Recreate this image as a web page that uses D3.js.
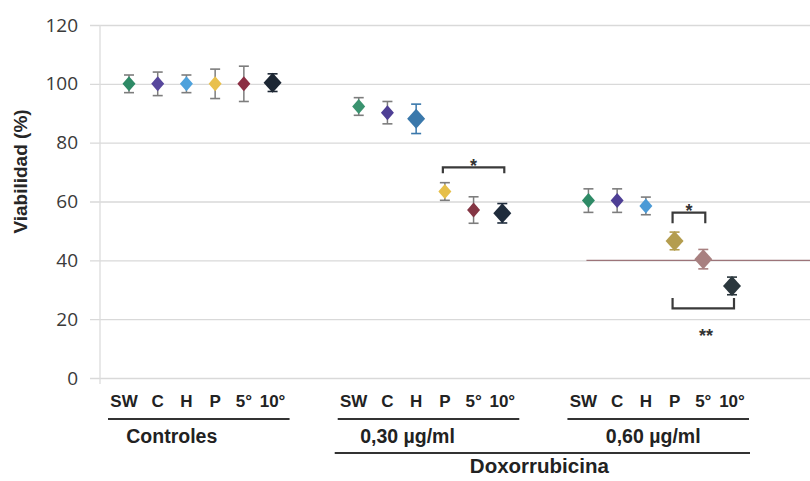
<!DOCTYPE html>
<html>
<head>
<meta charset="utf-8">
<script src="https://cdn.jsdelivr.net/npm/d3@7"></script>
<style>
  body { margin: 0; background: #fff; }
  svg { display: block; }
</style>
</head>
<body>
<div class="chart"></div>
<script>
// ===== data =====
const groupNames = ["Controles", "0,30 µg/ml", "0,60 µg/ml"];
const cellLabels = ["SW", "C", "H", "P", "5°", "10°"];
const yTicks = [0, 20, 40, 60, 80, 100, 120];

const controles = [100, 100, 100, 100, 100, 100.4];
const controlesErr = [3, 4, 3, 5, 6, 3];
const dox030 = [92.3, 90.2, 88.1, 63.4, 57.1, 56];
const dox030Err = [3, 3.8, 5, 3, 4.5, 3.3];
const dox060 = [60.3, 60.3, 58.5, 46.6, 40.4, 31.3];
const dox060Err = [4, 4, 3, 3, 3.3, 3];

// marker colours per group (SW, C, H, P, 5°, 10°)
const colControles = ["#2e8a66", "#57479c", "#4ea2dc", "#e9c04c", "#8c2f44", "#1c2633"];
const colDox030 = ["#3a936f", "#4e3f95", "#3a78ab", "#e6bf4a", "#843644", "#1f2c3c"];
const colDox060 = ["#2e8a66", "#4e3f95", "#4b9ad6", "#b49d4e", "#a88080", "#2b373d"];
const bigMarker = [
  [0, 0, 0, 0, 0, 1],
  [0, 0, 1, 0, 0, 1],
  [0, 0, 0, 1, 1, 1]
];

// significance brackets: group, from cell, to cell, level, leg, label
const brackets = [
  { g: 1, from: 3, to: 5, level: 71.6, leg: 69.6, label: "*", labelY: 73.3 },
  { g: 2, from: 3, to: 4, level: 56.2, leg: 52.6, label: "*", labelY: 58.1 },
  { g: 2, from: 3, to: 5, level: 23.7, leg: 27.2, label: "**", labelY: 15.5 }
];

const values = [controles, dox030, dox060];
const errs = [controlesErr, dox030Err, dox060Err];
const colors = [colControles, colDox030, colDox060];

// slot keys with two blank slots between groups
let slots = [];
groupNames.forEach(function (g, gi) {
  cellLabels.forEach(function (c) { slots.push(gi + "-" + c); });
  if (gi < groupNames.length - 1) { slots.push("gap" + gi + "a"); slots.push("gap" + gi + "b"); }
});

let points = [];
groupNames.forEach(function (g, gi) {
  cellLabels.forEach(function (c, ci) {
    points.push({
      key: gi + "-" + c, g: gi, c: ci, label: c,
      value: values[gi][ci], err: errs[gi][ci],
      color: colors[gi][ci], big: bigMarker[gi][ci]
    });
  });
});

// ===== layout =====
let width = 810, height = 481;
let svg = d3.select(".chart").append("svg")
  .attr("width", width)
  .attr("height", height);

let x = d3.scalePoint().domain(slots).range([129, 732]);
let y = d3.scaleLinear().domain([0, 120]).range([378, 25]);

// gridlines + y axis
let yAxis = d3.axisLeft(y).tickValues(yTicks).tickSize(-(width - 90)).tickPadding(12);
let ga = svg.append("g")
  .attr("transform", "translate(90,0)")
  .call(yAxis);
ga.select(".domain").remove();
ga.selectAll(".tick line").attr("stroke", "#d9d9d9").attr("stroke-width", 1.3);
ga.selectAll(".tick text")
  .attr("fill", "#3a3a3a")
  .style("font-family", "'Open Sans', sans-serif")
  .style("font-size", "19px");

svg.append("line")
  .attr("x1", 100).attr("x2", 100)
  .attr("y1", y(120)).attr("y2", y(0) + 6)
  .attr("stroke", "#dcdcdc").attr("stroke-width", 1.3);

// mauve line at 40 over the last group
svg.append("line")
  .attr("x1", x("2-SW") - 2).attr("x2", width)
  .attr("y1", y(40)).attr("y2", y(40))
  .attr("stroke", "#9c7479").attr("stroke-width", 1.2);

// y title
svg.append("text")
  .attr("transform", "translate(27," + (y(60) - 30) + ") rotate(-90)")
  .attr("text-anchor", "middle")
  .style("font-family", "'Liberation Sans', Arial, sans-serif")
  .style("font-weight", "bold")
  .style("font-size", "19px")
  .attr("fill", "#262626")
  .text("Viabilidad (%)");

// ===== error bars + markers =====
let pg = svg.append("g").selectAll("g").data(points).enter().append("g")
  .attr("transform", function (d) { return "translate(" + x(d.key) + ",0)"; });

pg.append("line")
  .attr("y1", function (d) { return y(d.value + d.err); })
  .attr("y2", function (d) { return y(d.value - d.err); })
  .attr("stroke", function (d) { return d.big ? d.color : "#7d7d7d"; })
  .attr("stroke-width", 1.5);
pg.selectAll(".cap").data(function (d) { return [d.value + d.err, d.value - d.err].map(function (v) { return { v: v, d: d }; }); })
  .enter().append("line")
  .attr("x1", -5).attr("x2", 5)
  .attr("y1", function (e) { return y(e.v); })
  .attr("y2", function (e) { return y(e.v); })
  .attr("stroke", function (e) { return e.d.big ? e.d.color : "#7d7d7d"; })
  .attr("stroke-width", 1.6);

pg.append("path")
  .attr("d", function (d) {
    let w = d.big ? 9 : 6.5, h = d.big ? 10 : 7.5, cy = y(d.value);
    return "M0," + (cy - h) + "L" + w + "," + cy + "L0," + (cy + h) + "L" + (-w) + "," + cy + "Z";
  })
  .attr("fill", function (d) { return d.color; });

// ===== brackets =====
let bg = svg.append("g").selectAll("g").data(brackets).enter().append("g");
bg.append("path")
  .attr("d", function (b) {
    let x1 = x(b.g + "-" + cellLabels[b.from]) - 2, x2 = x(b.g + "-" + cellLabels[b.to]) + 2;
    return "M" + x1 + "," + y(b.leg) + "L" + x1 + "," + y(b.level) + "L" + x2 + "," + y(b.level) + "L" + x2 + "," + y(b.leg);
  })
  .attr("fill", "none")
  .attr("stroke", "#3a3a3a")
  .attr("stroke-width", 2.2);
bg.append("text")
  .attr("x", function (b) {
    let x1 = x(b.g + "-" + cellLabels[b.from]), x2 = x(b.g + "-" + cellLabels[b.to]);
    return b.label === "**" ? x2 - 26 : (x1 + x2) / 2;
  })
  .attr("y", function (b) { return y(b.labelY) + 10; })
  .attr("text-anchor", "middle")
  .style("font-family", "'Liberation Sans', Arial, sans-serif")
  .style("font-weight", "bold")
  .style("font-size", "18px")
  .attr("fill", "#333")
  .text(function (b) { return b.label; });

// ===== category labels =====
let labelFont = "'Liberation Sans', Arial, sans-serif";
svg.append("g").selectAll("text").data(points).enter().append("text")
  .attr("x", function (d) { return x(d.key) + (d.c === 0 ? -5 : 0); })
  .attr("y", 407)
  .attr("text-anchor", "middle")
  .style("font-family", labelFont)
  .style("font-weight", "bold")
  .style("font-size", "17px")
  .attr("fill", "#222")
  .text(function (d) { return d.label; });

// group underlines and names
let nameShift = [-29, -23, -7];
let gg = svg.append("g").selectAll("g").data(groupNames).enter().append("g");
gg.append("line")
  .attr("x1", function (g, i) { return x(i + "-SW") - 21; })
  .attr("x2", function (g, i) { return x(i + "-10°") + 17; })
  .attr("y1", 419).attr("y2", 419)
  .attr("stroke", "#333").attr("stroke-width", 2);
gg.append("text")
  .attr("x", function (g, i) { return (x(i + "-SW") + x(i + "-10°")) / 2 + nameShift[i]; })
  .attr("y", 443)
  .attr("text-anchor", "middle")
  .style("font-family", labelFont)
  .style("font-weight", "bold")
  .style("font-size", "19.5px")
  .attr("fill", "#222")
  .text(function (g) { return g; });

// Doxorrubicina line and label
svg.append("line")
  .attr("x1", x("1-SW") - 24).attr("x2", x("2-10°") + 18)
  .attr("y1", 453).attr("y2", 453)
  .attr("stroke", "#333").attr("stroke-width", 2);
svg.append("text")
  .attr("x", (x("1-SW") + x("2-10°")) / 2 - 6)
  .attr("y", 473)
  .attr("text-anchor", "middle")
  .style("font-family", labelFont)
  .style("font-weight", "bold")
  .style("font-size", "20.5px")
  .attr("fill", "#222")
  .text("Doxorrubicina");
</script>
</body>
</html>
